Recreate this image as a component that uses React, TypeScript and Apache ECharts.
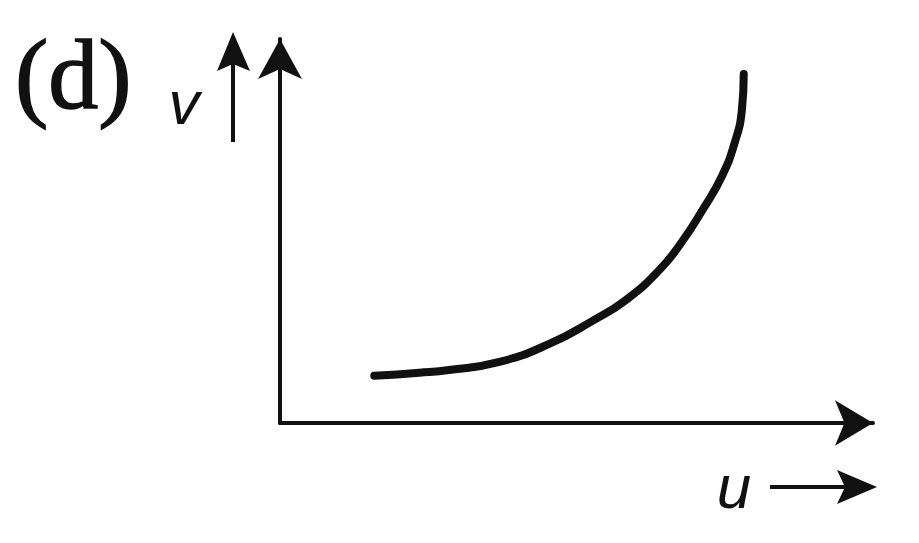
import React, { useEffect, useRef } from "react";
import * as echarts from "echarts";

// Curve (arbitrary units, axes 0..10)
const uValues = [1.59, 2.35, 2.85, 3.7, 4.54, 5.27, 5.84, 6.4, 6.77, 7.13, 7.45, 7.67, 7.79, 7.82];
const vValues = [1.23, 1.31, 1.38, 1.59, 2.06, 2.66, 3.21, 3.99, 4.7, 5.56, 6.42, 7.31, 8.17, 9.09];
const panelLabel = "(d)";
const yName = "v";
const xName = "u";

export default function App() {
  const ref = useRef<HTMLDivElement>(null);
  useEffect(() => {
    if (!ref.current) return;
    const chart = echarts.init(ref.current, undefined, { renderer: "svg" });
    const data = uValues.map((u, i) => [u, vValues[i]]);
    const ink = "#111";
    chart.setOption({
      animation: false,
      backgroundColor: "#ffffff",
      grid: { left: 280, right: 46, top: 39, bottom: 120, containLabel: false },
      xAxis: {
        type: "value",
        min: 0,
        max: 10,
        axisLine: {
          show: true,
          symbol: ["none", "arrow"],
          symbolSize: [34, 38],
          lineStyle: { color: ink, width: 4 },
        },
        axisTick: { show: false },
        axisLabel: { show: false },
        splitLine: { show: false },
      },
      yAxis: {
        type: "value",
        min: 0,
        max: 10,
        axisLine: {
          show: true,
          symbol: ["none", "arrow"],
          symbolSize: [33, 40],
          lineStyle: { color: ink, width: 4 },
        },
        axisTick: { show: false },
        axisLabel: { show: false },
        splitLine: { show: false },
      },
      series: [
        {
          type: "line",
          data,
          smooth: 0.5,
          smoothMonotone: "none",
          showSymbol: false,
          lineStyle: { color: ink, width: 8, cap: "round", join: "round" },
        },
      ],
      graphic: [
        {
          type: "text",
          x: 15,
          y: 74,
          style: {
            text: panelLabel,
            font: "100px 'Liberation Serif', serif",
            fill: ink,
            stroke: ink,
            lineWidth: 1.5,
            verticalAlign: "middle",
            align: "left",
          },
        },
        {
          type: "text",
          x: 184,
          y: 102,
          style: {
            text: yName,
            font: "italic 62px 'Liberation Sans', sans-serif",
            fill: ink,
            verticalAlign: "middle",
            align: "center",
          },
        },
        {
          type: "line",
          shape: { x1: 233, y1: 62, x2: 233, y2: 142 },
          style: { stroke: ink, lineWidth: 4 },
        },
        {
          type: "polygon",
          shape: { points: [[233, 32], [250, 71], [233, 64], [217, 71]] },
          style: { fill: ink },
        },
        {
          type: "text",
          x: 734,
          y: 486,
          style: {
            text: xName,
            font: "italic 62px 'Liberation Sans', sans-serif",
            fill: ink,
            verticalAlign: "middle",
            align: "center",
          },
        },
        {
          type: "line",
          shape: { x1: 770, y1: 487, x2: 845, y2: 487 },
          style: { stroke: ink, lineWidth: 4 },
        },
        {
          type: "polygon",
          shape: { points: [[877, 487], [837, 470], [845, 487], [837, 504]] },
          style: { fill: ink },
        },
      ],
    });
    return () => chart.dispose();
  }, []);
  return <div ref={ref} style={{ width: 919, height: 543, margin: -8 }} />;
}
